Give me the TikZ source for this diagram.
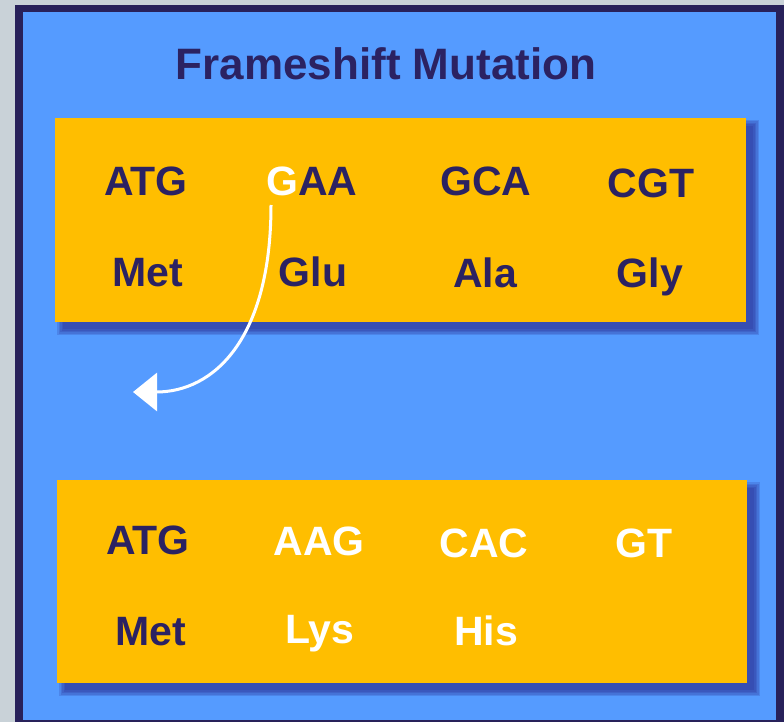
\documentclass[tikz,border=0pt]{standalone}
\usepackage{fontspec}
\setmainfont{Liberation Sans}
\usepackage{tikz}
\usetikzlibrary{positioning,arrows.meta}
\definecolor{pagegray}{HTML}{C9D2D8}
\definecolor{framenavy}{HTML}{28215A}
\definecolor{panelblue}{HTML}{559BFF}
\definecolor{boxorange}{HTML}{FFBE00}
\definecolor{textnavy}{HTML}{2B2262}
\definecolor{shadownavy}{HTML}{26238A}
\tikzset{strip/.style={fill=boxorange,draw=none}}
\tikzset{haze/.style={fill=shadownavy,opacity=0.18}}
\tikzset{codon/.style={font=\bfseries\fontsize{41}{41}\selectfont,text=textnavy,anchor=base,inner sep=0pt}}
\tikzset{shifted/.style={codon,text=white}}
\tikzset{jump/.style={draw=white,line width=3pt,-{Triangle[length=24pt,width=38pt]}}}

\begin{document}
\begin{tikzpicture}[x=1pt,y=-1pt]
  \useasboundingbox (0,0) rectangle (784,722);
  \fill[pagegray] (0,0) rectangle (784,722);
  \fill[framenavy] (15,5) rectangle (784,722);
  \fill[panelblue] (23,12) rectangle (776,720);
  % title
  \node[codon,font=\bfseries\fontsize{44}{44}\selectfont] (title) at (386,80) {Frameshift Mutation};
  % shadows
  \foreach \s in {0,1.5,3,4.5,6} {
    \fill[haze] (63-\s,126-\s) rectangle (753+\s,329+\s);
    \fill[haze] (65-\s,488-\s) rectangle (754+\s,690+\s);
  }
  % original reading frame
  \fill[strip] (55,118) rectangle (746,322);
  \node[codon] (codA) at (146,196) {ATG};
  \node[codon] (codB) at (312,196) {\textcolor{white}{G}AA};
  \node[codon] (codC) at (486,196) {GCA};
  \node[codon] (codD) at (651,197) {CGT};
  \node[codon] (aaA) at (148,286) {Met};
  \node[codon] (aaB) at (313,286) {Glu};
  \node[codon] (aaC) at (485,287) {Ala};
  \node[codon] (aaD) at (650,287) {Gly};
  % shifted reading frame
  \fill[strip] (57,480) rectangle (747,683);
  \node[codon] (newA) at (148,554) {ATG};
  \node[shifted] (newB) at (319,555) {AAG};
  \node[shifted] (newC) at (484,557) {CAC};
  \node[shifted] (newD) at (644,557) {GT};
  \node[codon] (newaaA) at (151,645) {Met};
  \node[shifted] (newaaB) at (320,643) {Lys};
  \node[shifted] (newaaC) at (486,645) {His};
  % deleted base
  \coordinate (lostG) at (271,205);
  \coordinate (gap) at (133,392);
  \draw[jump] (lostG) .. controls (271,340) and (213,392) .. (gap);
\end{tikzpicture}
\end{document}
